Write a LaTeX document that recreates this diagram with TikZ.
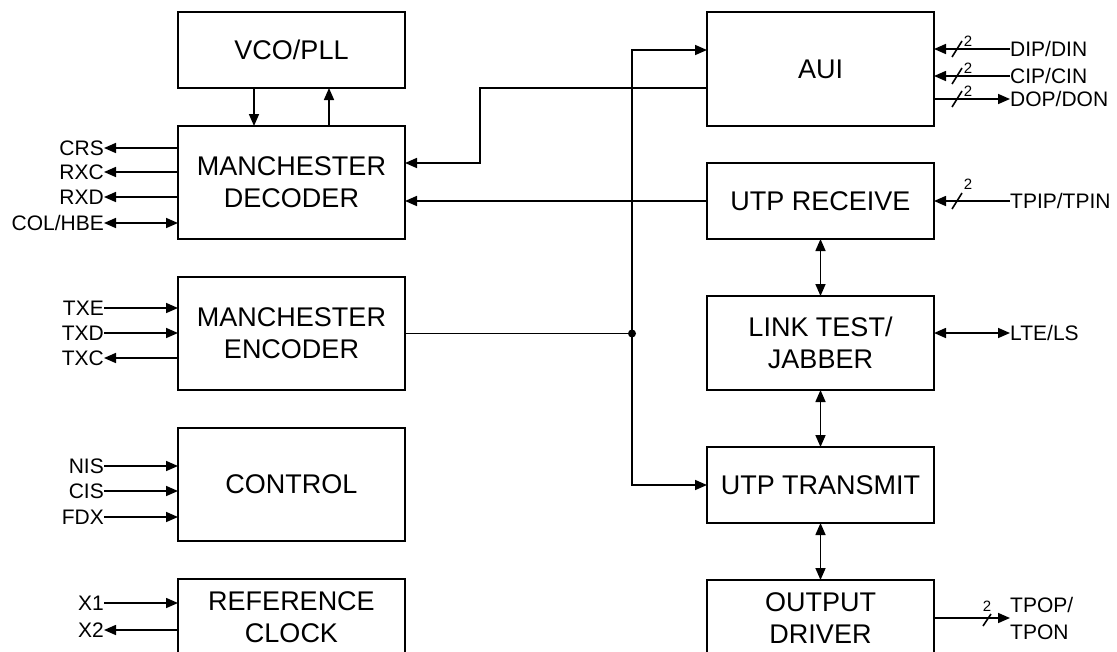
\documentclass[tikz,border=0pt]{standalone}
\usepackage{fontspec}
\setmainfont{Liberation Sans}
\usetikzlibrary{positioning, arrows.meta, calc}

\begin{document}
\begin{tikzpicture}[
    x=1pt, y=-1pt,
    node distance=38pt,
    block/.style={rectangle, draw, line width=1.8pt, outer sep=0pt, minimum width=227pt, inner sep=0pt, align=center, font=\fontsize{27}{32}\selectfont},
    tall/.style={block, minimum height=113pt},
    short/.style={block, minimum height=76pt},
    sigfont/.style={inner sep=0pt, align=left, font=\fontsize{21}{27}\selectfont},
    sigtext/.style={sigfont, text height=15pt, text depth=0pt},
    wire/.style={line width=1.6pt, -{Triangle[length=12pt, width=10pt]}},
    bothway/.style={line width=1.6pt, {Triangle[length=12pt, width=10pt]}-{Triangle[length=12pt, width=10pt]}},
    bus/.style={line width=1.6pt},
    buswidth/.style={inner sep=0pt, font=\fontsize{15}{15}\selectfont}
]
\useasboundingbox (0,0) rectangle (1117,651);

% Nodes
\node[short, anchor=north west] (vco) at (178,12) {VCO/PLL};
\node[tall, below=of vco] (dec) {MANCHESTER\\DECODER};
\node[tall, below=of dec] (enc) {MANCHESTER\\ENCODER};
\node[tall, below=of enc] (ctl) {CONTROL};
\node[short, below=of ctl] (ref) {REFERENCE\\CLOCK};

\node[block, minimum height=114pt, anchor=north west] (aui) at (707,12) {AUI};
\node[short, below=37pt of aui] (urx) {UTP RECEIVE};
\node[block, minimum height=94pt, below=57pt of urx] (lnk) {LINK TEST/\\JABBER};
\node[short, below=57pt of lnk] (utx) {UTP TRANSMIT};
\node[short, below=57pt of utx] (drv) {OUTPUT\\DRIVER};

% Pins, left
\node[sigtext, anchor=east] (crs) at (104,148) {CRS};
\node[sigtext, anchor=east] (rxc) at (104,172) {RXC};
\node[sigtext, anchor=east] (rxd) at (104,197) {RXD};
\node[sigtext, anchor=east] (col) at (104,223) {COL/HBE};
\node[sigtext, anchor=east] (txe) at (104,308) {TXE};
\node[sigtext, anchor=east] (txd) at (104,333) {TXD};
\node[sigtext, anchor=east] (txc) at (104,358) {TXC};
\node[sigtext, anchor=east] (nis) at (104,466) {NIS};
\node[sigtext, anchor=east] (cis) at (104,491) {CIS};
\node[sigtext, anchor=east] (fdx) at (104,517) {FDX};
\node[sigtext, anchor=east] (xa) at (104,603) {X1};
\node[sigtext, anchor=east] (xb) at (104,630) {X2};

% Pins, right
\node[sigtext, anchor=west] (dip) at (1010,49) {DIP/DIN};
\node[sigtext, anchor=west] (cip) at (1010,76) {CIP/CIN};
\node[sigtext, anchor=west] (dop) at (1010,99) {DOP/DON};
\node[sigtext, anchor=west] (tpi) at (1010,201) {TPIP/TPIN};
\node[sigtext, anchor=west] (lte) at (1010,333) {LTE/LS};
\node[sigfont, anchor=west] (tpo) at (1010,618) {TPOP/\\TPON};

% Edges
\foreach \n in {crs, rxc, rxd, txc, xb}
    \draw[wire] (dec.west |- \n) -- (\n.east);
\draw[bothway] (dec.west |- col) -- (col.east);
\foreach \n in {txe, txd, nis, cis, fdx, xa}
    \draw[wire] (\n.east) -- (dec.west |- \n);

\foreach \n in {dip, cip}
    \draw[wire] (\n.west) -- (aui.east |- \n);
\draw[wire] (aui.east |- dop) -- (dop.west);
\draw[wire] (tpi.west) -- (urx.east |- tpi);
\draw[bothway] (lnk.east |- lte) -- (lte.west);
\draw[wire] (drv.east) -- (tpo.west |- drv.east);

\draw[wire] (vco.south -| 254,0) -- (dec.north -| 254,0);
\draw[wire] (dec.north -| 329,0) -- (vco.south -| 329,0);

\draw[wire] (aui.west |- 0,88) -| (480,163) -- (dec.east |- 0,163);
\draw[wire] (urx.west) -- (dec.east |- urx.west);

\coordinate (tap) at (enc.east -| 632,0);
\draw[bus] (enc.east) -- (tap);
\fill (tap) circle (4pt);
\draw[wire] (tap) |- (aui.west |- 0,50);
\draw[wire] (tap) |- (utx.west);

\draw[bothway] (urx) -- (lnk);
\draw[bothway] (lnk) -- (utx);
\draw[bothway] (utx) -- (drv);

% Bus widths
\foreach \n in {dip, cip, dop}
    \draw[bus] ($(aui.east |- \n)+(18,8)$) -- ++(10,-16) node[buswidth, anchor=south west] at ++(1,6) {2};
\draw[bus] ($(urx.east |- tpi)+(18,8)$) -- ++(10,-16) node[buswidth, anchor=south west] at ++(1,-3) {2};
\draw[bus] ($(drv.east)+(49,8)$) -- ++(8,-12) node[buswidth, anchor=south] at ++(-4,-2) {2};

\end{tikzpicture}
\end{document}
